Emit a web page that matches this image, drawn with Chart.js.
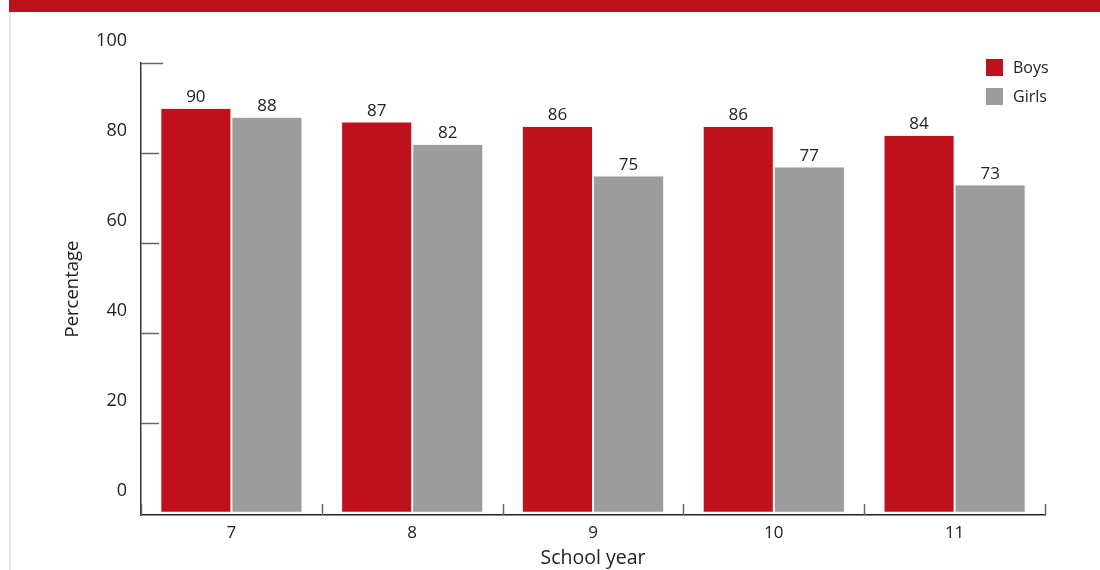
<!DOCTYPE html>
<html lang="en">
  <head>
    <meta charset="utf-8" />
    <title>School year percentages</title>
    <style>
      body { margin: 0; background: #fff; font-family: "Open Sans", "Noto Sans", sans-serif; }
      .banner { position: absolute; left: 9px; top: 0; width: 1091px; height: 12px; background: #be111d; }
      .edge { position: absolute; left: 9px; top: 12px; width: 2px; height: 558px; background: #e6e6e6; }
      .chartBox { position: absolute; left: 0; top: 0; width: 1100px; height: 570px; }
      .legend { position: absolute; left: 986px; top: 59px; font-size: 16px; color: #222; }
      .legend div { height: 29px; display: flex; align-items: flex-start; }
      .legend span.box { display: inline-block; width: 17px; height: 17px; margin-right: 10px; }
      .legend span.txt { line-height: 19px; margin-top: -1px; }
    </style>
  </head>
  <body>
    <div class="banner"></div>
    <div class="edge"></div>
    <div class="chartBox">
      <canvas id="myChart" width="1100" height="570"></canvas>
    </div>
    <div class="legend" id="legend"></div>
    <script src="https://cdn.jsdelivr.net/npm/chart.js"></script>
    <script>
      const schoolYears = ["7", "8", "9", "10", "11"];
      const boysValues = [90, 87, 86, 86, 84];
      const girlsValues = [88, 82, 75, 77, 73];
      const yTicks = [0, 20, 40, 60, 80, 100];

      const red = "#be111d";
      const grey = "#9c9c9c";
      const fontFamily = "'Open Sans', 'Noto Sans', sans-serif";

      // tick marks drawn inside the plot, values above bars
      const extras = {
        id: "extras",
        afterDraw(chart) {
          const ctx = chart.ctx;
          const x = chart.scales.x;
          const y = chart.scales.y;
          const area = chart.chartArea;
          ctx.save();
          ctx.strokeStyle = "#666";
          ctx.lineWidth = 1.5;
          yTicks.forEach((v) => {
            if (v === 0) return;
            const py = Math.round(y.getPixelForValue(v)) + 0.5;
            ctx.beginPath();
            ctx.moveTo(area.left, py);
            ctx.lineTo(area.left + (v === 100 ? 22 : 18), py);
            ctx.stroke();
          });
          const bottom = y.getPixelForValue(y.min);
          for (let i = 0; i <= schoolYears.length; i++) {
            const px = Math.round(x.getPixelForValue(i - 0.5)) + 0.5;
            ctx.beginPath();
            ctx.moveTo(px, bottom);
            ctx.lineTo(px, bottom - 11);
            ctx.stroke();
          }
          ctx.fillStyle = "#222";
          ctx.font = "17px " + fontFamily;
          ctx.textAlign = "center";
          ctx.textBaseline = "bottom";
          chart.data.datasets.forEach((ds, di) => {
            chart.getDatasetMeta(di).data.forEach((bar, i) => {
              ctx.fillText(String(ds.data[i]), bar.x, bar.y - 2);
            });
          });
          ctx.restore();
        },
      };

      const data = {
        labels: schoolYears,
        datasets: [
          {
            label: "Boys",
            data: boysValues,
            backgroundColor: red,
            borderColor: "rgba(255,235,235,0.9)",
            borderWidth: 1,
            borderSkipped: false,
          },
          {
            label: "Girls",
            data: girlsValues,
            backgroundColor: grey,
            borderColor: "rgba(240,240,240,0.9)",
            borderWidth: 1,
            borderSkipped: false,
          },
        ],
      };

      const config = {
        type: "bar",
        data,
        plugins: [extras],
        options: {
          responsive: false,
          animation: false,
          layout: { padding: { left: 0, top: 63, right: 55, bottom: 0 } },
          datasets: {
            bar: { categoryPercentage: 0.786, barPercentage: 1 },
          },
          plugins: {
            legend: { display: false },
            tooltip: { enabled: false },
          },
          scales: {
            x: {
              grid: { display: false },
              border: { display: true, color: "#222", width: 1.5 },
              ticks: {
                color: "#222",
                font: { family: fontFamily, size: 17 },
                padding: 0,
              },
              title: {
                display: true,
                text: "School year",
                color: "#222",
                font: { family: fontFamily, size: 19.5 },
                padding: { top: 0, bottom: 0 },
              },
              afterFit(scale) {
                scale.height = 55;
              },
            },
            y: {
              min: -0.5,
              max: 100,
              grid: { display: false },
              border: { display: true, color: "#333", width: 1.5 },
              afterBuildTicks(scale) {
                scale.ticks = yTicks.map((v) => ({ value: v }));
              },
              ticks: {
                color: "#222",
                font: { family: fontFamily, size: 18 },
                padding: 6,
                labelOffset: -22,
              },
              title: {
                display: true,
                text: "Percentage",
                color: "#222",
                font: { family: fontFamily, size: 18.5 },
                padding: { top: 62, bottom: 0 },
              },
              afterFit(scale) {
                scale.width = 141;
              },
            },
          },
        },
      };

      const myChart = new Chart(document.getElementById("myChart"), config);

      const legendEl = document.getElementById("legend");
      data.datasets.forEach((ds) => {
        const row = document.createElement("div");
        const box = document.createElement("span");
        box.className = "box";
        box.style.background = ds.backgroundColor;
        const txt = document.createElement("span");
        txt.className = "txt";
        txt.textContent = ds.label;
        row.appendChild(box);
        row.appendChild(txt);
        legendEl.appendChild(row);
      });
    </script>
  </body>
</html>
